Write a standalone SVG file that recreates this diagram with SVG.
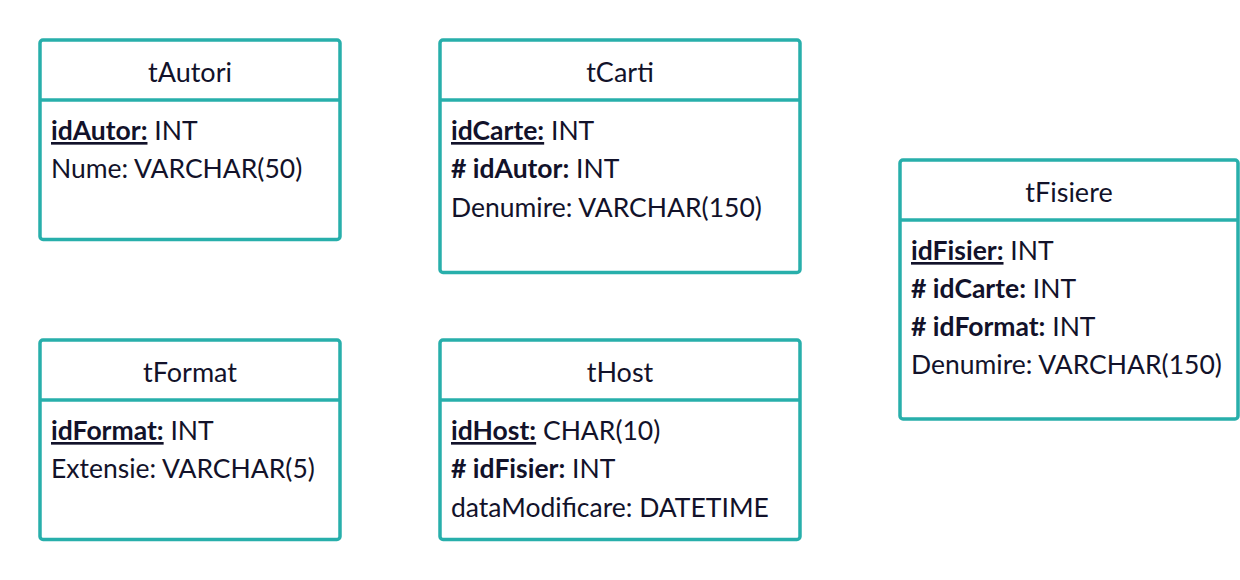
<svg xmlns="http://www.w3.org/2000/svg" width="1240" height="580" viewBox="0 0 1240 580">
<style>
.box{fill:#fff;stroke:#28AFAB;stroke-width:3.5}
.div{stroke:#28AFAB;stroke-width:3.5}
text{font-family:Lato,"Liberation Sans",sans-serif;font-size:26.5px;fill:#12122A}
.t{text-anchor:middle;font-size:27px}
.b{font-weight:bold}
.u{font-weight:bold;text-decoration:underline}
</style>
<rect width="1240" height="580" fill="#fff"/>
<g id="tAutori">
<rect class="box" x="40" y="40" width="300" height="199.5" rx="3"/>
<line class="div" x1="40" y1="100" x2="340" y2="100"/>
<text class="t" x="190" y="82">tAutori</text>
<text x="51" y="140"><tspan class="u">idAutor:</tspan> INT</text>
<text x="51" y="178">Nume: VARCHAR(50)</text>
</g>
<g id="tCarti">
<rect class="box" x="440" y="40" width="360" height="232.5" rx="3"/>
<line class="div" x1="440" y1="100" x2="800" y2="100"/>
<text class="t" x="620" y="82">tCarti</text>
<text x="451" y="140"><tspan class="u">idCarte:</tspan> INT</text>
<text x="451" y="178"><tspan class="b"># idAutor:</tspan> INT</text>
<text x="451" y="217">Denumire: VARCHAR(150)</text>
</g>
<g id="tFisiere">
<rect class="box" x="900" y="160" width="338" height="259" rx="3"/>
<line class="div" x1="900" y1="220" x2="1238" y2="220"/>
<text class="t" x="1069" y="202">tFisiere</text>
<text x="911" y="260"><tspan class="u">idFisier:</tspan> INT</text>
<text x="911" y="298"><tspan class="b"># idCarte:</tspan> INT</text>
<text x="911" y="336"><tspan class="b"># idFormat:</tspan> INT</text>
<text x="911" y="374">Denumire: VARCHAR(150)</text>
</g>
<g id="tFormat">
<rect class="box" x="40" y="340" width="300" height="199.5" rx="3"/>
<line class="div" x1="40" y1="400" x2="340" y2="400"/>
<text class="t" x="190" y="382">tFormat</text>
<text x="51" y="440"><tspan class="u">idFormat:</tspan> INT</text>
<text x="51" y="478">Extensie: VARCHAR(5)</text>
</g>
<g id="tHost">
<rect class="box" x="440" y="340" width="360" height="199.5" rx="3"/>
<line class="div" x1="440" y1="400" x2="800" y2="400"/>
<text class="t" x="620" y="382">tHost</text>
<text x="451" y="440"><tspan class="u">idHost:</tspan> CHAR(10)</text>
<text x="451" y="478"><tspan class="b"># idFisier:</tspan> INT</text>
<text x="451" y="517">dataModificare: DATETIME</text>
</g>
<g id="connectors"></g>
</svg>
